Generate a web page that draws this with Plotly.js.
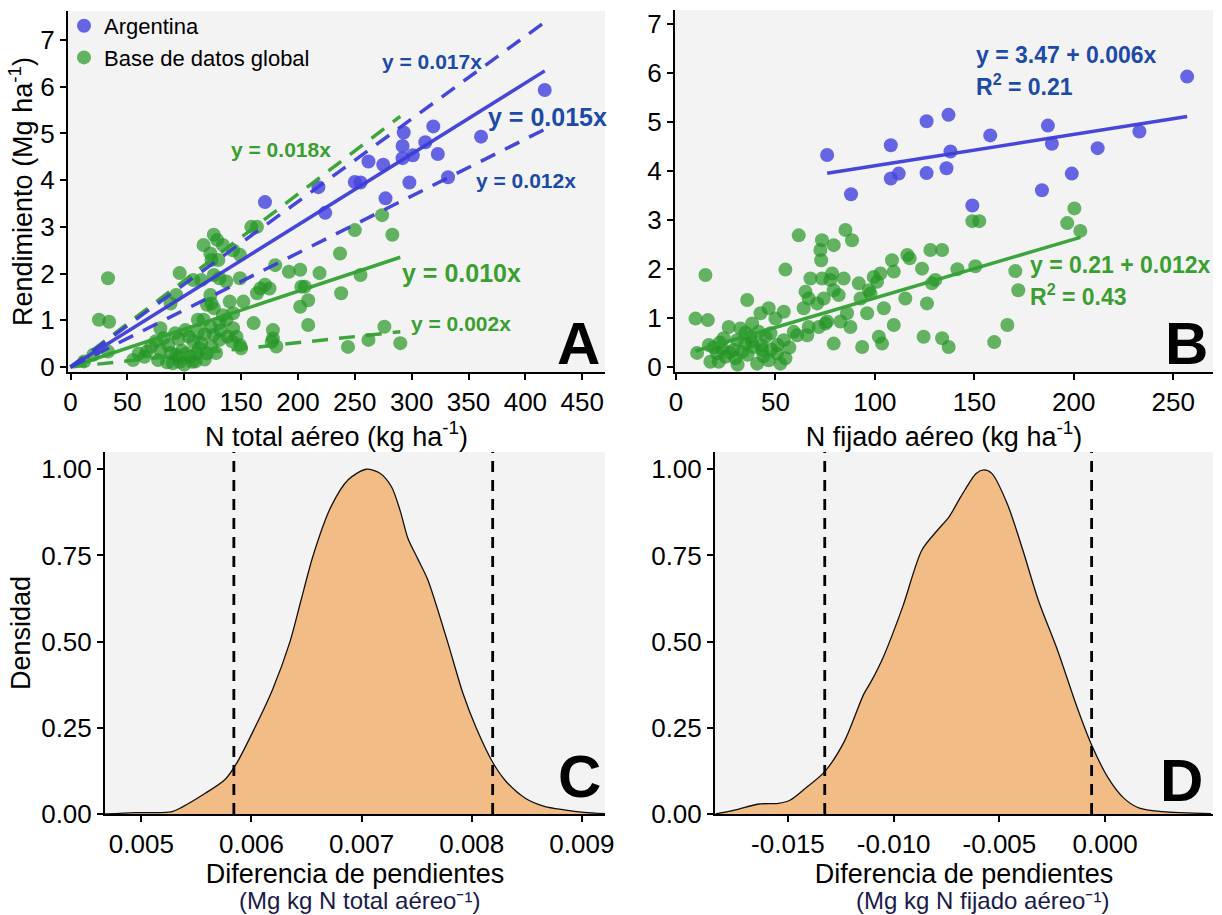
<!DOCTYPE html>
<html><head><meta charset="utf-8">
<script src="https://cdn.plot.ly/plotly-3.0.1.min.js"></script>
<style>html,body{margin:0;padding:0;background:#fff}#chart{width:1222px;height:915px}</style>
</head><body><div id="chart"></div>
<script>
// ---------- Panel A / B : Argentina ----------
const argYield  = [5.93,5.15,5.02,4.93,4.81,4.73,4.56,4.53,4.47,4.40,4.33,4.06,3.96,3.95,3.95,3.85,3.61,3.53,3.30];
const argTotalN = [417,319,293,361,312,292,323,301,292,262,275,332,250,255,298,218,277,171,224];
const argFixN   = [257,137,126,187,233,158,189,108,212,138,76,136,126,112,199,108,184,88,149];

// ---------- Panel A : global database ----------
const globTotalN = [33,25,34,20,33,12,55,60,67,71,79,79,77,86,88,93,96,92,93,90,96,102,101,104,107,111,112,108,115,117,123,126,129,134,124,130,126,131,137,123,124,120,126,117,123,126,115,120,124,131,134,131,137,143,149,149,140,143,152,143,146,149,150,161,164,167,171,175,178,178,177,181,180,159,164,192,202,203,206,202,209,209,219,237,238,250,255,244,274,283,262,276,290,85,95,100,105,110,98,113,118,88,65,75,82,95,108,112,118,132,138,142,128];
const globYieldA = [1.90,1.01,0.97,0.26,0.33,0.12,0.15,0.29,0.33,0.44,0.83,0.36,0.15,0.47,1.36,1.54,2.01,0.72,0.26,0.08,0.11,0.29,0.79,0.65,0.11,0.29,1.01,1.86,1.86,2.61,2.43,2.83,2.72,2.61,2.29,2.29,1.97,1.90,1.83,1.54,1.36,1.33,1.26,1.01,0.86,0.69,0.51,0.29,0.44,0.58,1.11,0.94,1.01,2.50,2.40,1.90,1.40,1.15,1.40,0.83,0.65,0.47,0.40,0.94,1.58,1.68,1.76,1.68,0.79,0.61,0.54,0.44,2.18,3.00,3.00,2.04,2.08,1.72,1.72,1.29,1.43,0.90,2.01,2.43,1.58,2.93,1.97,0.43,3.25,2.83,0.58,0.86,0.51,0.10,0.20,0.05,0.22,0.12,0.35,0.40,0.16,0.30,0.22,0.55,0.62,0.60,0.55,0.75,0.70,0.78,0.65,0.55,0.30];

// ---------- Panel B : global database ----------
const globFixN = [14.8,9.8,16,10.6,16.5,17.3,20.7,23.2,21.5,24.9,26.5,24,29,30.7,32.4,29.9,33.3,35.8,34.9,37.4,38.3,39.1,40.8,41.6,42.5,43.3,45,46.6,46.6,47.5,50,50.8,52.5,54.2,55,55,54.2,59.2,61.7,60.9,64.2,65.1,66,66.7,67.6,66.7,71,71.8,73.4,73.4,72.6,73,74.3,75.2,76,77.6,78.5,79.3,79.3,79.3,81.8,82.7,84.3,85.2,86,87.7,88.5,91.9,92.8,93.6,96.1,97,97.8,99.4,101.1,102.8,102,103.6,104.5,108.6,109.5,109.5,115.3,116.3,117.5,123.7,124.5,126.2,127.9,128.7,130.4,133.8,133.8,137.1,141.5,150.5,149,152.5,160,166.6,170.6,172.1,196.7,200.3,203.3,19,27,36,38,43,44,48,31,22,51,57,35];
const globYieldB = [1.88,0.99,0.96,0.29,0.45,0.11,0.28,0.38,0.11,0.21,0.82,0.59,0.35,0.55,0.79,0.18,0.31,1.37,0.48,0.62,0.89,0.41,0.07,0.72,1.10,0.35,0.62,1.20,0.14,0.69,0.99,0.28,0.07,1.13,1.99,0.18,0.55,0.72,2.69,0.65,1.20,1.54,0.65,0.82,1.81,1.40,1.30,0.82,1.81,2.59,2.39,2.18,1.40,0.89,0.93,1.78,1.91,2.49,1.57,0.48,1.47,0.93,1.81,2.80,1.10,0.82,2.59,1.71,1.40,0.41,1.10,1.57,1.50,1.84,1.74,1.91,0.62,0.48,1.20,2.18,1.95,0.86,1.40,2.29,2.22,2.01,0.62,1.30,2.39,1.71,1.78,2.39,0.59,0.41,2.00,2.06,2.98,2.98,0.51,0.86,1.96,1.57,2.94,3.24,2.78,0.40,0.30,0.25,0.52,0.45,0.22,0.36,0.05,0.50,0.45,0.40,0.70];

// ---------- Fitted lines ----------
// Panel A: through origin (solid, upper CI, lower CI)
const argSlopesA  = [0.0152, 0.0177, 0.0122];
const globSlopesA = [0.0081, 0.0185, 0.0026];
// Panel B: intercept, slope
const argFitB  = [3.47, 0.0064];
const globFitB = [0.21, 0.012];

// ---------- Panel C / D densities ----------
const densCX = [0.00467,0.00495,0.00527,0.00537,0.00558,0.00576,0.00587,0.00603,0.00619,0.00635,0.00645,0.00656,0.00672,0.00688,0.00704,0.00716,0.00727,0.00735,0.00742,0.00751,0.00760,0.00778,0.00792,0.00804,0.00819,0.00831,0.00849,0.00866,0.00884,0.00902,0.00921];
const densCY = [0.0,0.004,0.006,0.02,0.06,0.10,0.15,0.25,0.36,0.50,0.62,0.75,0.89,0.97,1.0,0.99,0.95,0.88,0.80,0.74,0.68,0.50,0.35,0.25,0.15,0.095,0.045,0.022,0.012,0.005,0.001];
const densDX = [-0.01843,-0.01748,-0.01638,-0.01546,-0.01491,-0.01417,-0.01326,-0.01234,-0.01142,-0.01105,-0.0105,-0.00958,-0.00867,-0.00793,-0.00738,-0.00683,-0.0061,-0.00573,-0.00536,-0.00463,-0.00389,-0.00316,-0.00224,-0.00132,-0.00064,0.00015,0.00088,0.00162,0.00272,0.00501];
const densDY = [0.0,0.012,0.029,0.031,0.04,0.075,0.123,0.21,0.347,0.386,0.454,0.60,0.765,0.823,0.862,0.92,0.988,0.998,0.988,0.90,0.765,0.62,0.473,0.308,0.20,0.104,0.046,0.017,0.007,0.001];
const ciC = [0.00584, 0.00819];
const ciD = [-0.01326, -0.00064];

// ---------- Tick labels ----------
const dTickVals = [-0.015,-0.010,-0.005,0.000];
const dTickText = ['-0.015','-0.010','-0.005','0.000'];
const densTickVals = [0,0.25,0.5,0.75,1];

// ---------- Styles ----------
const FONT = 'Liberation Sans, Arial, sans-serif';
const BLUE_PT = 'rgba(70,70,225,0.82)';
const GREEN_PT = 'rgba(35,150,35,0.70)';
const BLUE_LN = 'rgba(60,60,215,0.95)';
const GREEN_LN = 'rgba(50,160,50,0.95)';
const BLUE_TXT = '#1c4aa6';
const GREEN_TXT = '#3b9e30';
const DASH = '16px,11px';
const W = 1222, H = 915;
const px = v => v / W, py = v => 1 - v / H;

const maxOf = a => Math.max(...a), minOf = a => Math.min(...a);
const traces = [];

// Panel A points
traces.push({type:'scatter', mode:'markers', x:argTotalN, y:argYield, xaxis:'x', yaxis:'y',
  name:'Argentina', marker:{color:BLUE_PT, size:14, line:{width:0}}, showlegend:true});
traces.push({type:'scatter', mode:'markers', x:globTotalN, y:globYieldA, xaxis:'x', yaxis:'y',
  name:'Base de datos global', marker:{color:GREEN_PT, size:14, line:{width:0}}, showlegend:true});
// Panel A lines
const aArgMax = maxOf(argTotalN), aGlobMax = maxOf(globTotalN);
globSlopesA.forEach((s,i)=>traces.push({type:'scatter', mode:'lines', x:[0,aGlobMax], y:[0,s*aGlobMax],
  xaxis:'x', yaxis:'y', showlegend:false, hoverinfo:'skip',
  line:{color:GREEN_LN, width:3.5, dash: i===0?'solid':DASH}}));
argSlopesA.forEach((s,i)=>traces.push({type:'scatter', mode:'lines', x:[0,aArgMax], y:[0,s*aArgMax],
  xaxis:'x', yaxis:'y', showlegend:false, hoverinfo:'skip',
  line:{color:BLUE_LN, width:3.5, dash: i===0?'solid':DASH}}));

// Panel B points
traces.push({type:'scatter', mode:'markers', x:argFixN, y:argYield, xaxis:'x2', yaxis:'y2',
  showlegend:false, marker:{color:BLUE_PT, size:14, line:{width:0}}});
traces.push({type:'scatter', mode:'markers', x:globFixN, y:globYieldB, xaxis:'x2', yaxis:'y2',
  showlegend:false, marker:{color:GREEN_PT, size:14, line:{width:0}}});
const bArgX = [minOf(argFixN), maxOf(argFixN)], bGlobX = [minOf(globFixN), maxOf(globFixN)];
traces.push({type:'scatter', mode:'lines', x:bArgX, y:bArgX.map(v=>argFitB[0]+argFitB[1]*v),
  xaxis:'x2', yaxis:'y2', showlegend:false, line:{color:BLUE_LN, width:3.5}});
traces.push({type:'scatter', mode:'lines', x:bGlobX, y:bGlobX.map(v=>globFitB[0]+globFitB[1]*v),
  xaxis:'x2', yaxis:'y2', showlegend:false, line:{color:GREEN_LN, width:3.5}});

// Panel C / D
const DENS_TOP = 1.05;
traces.push({type:'scatter', mode:'lines', x:densCX, y:densCY, xaxis:'x3', yaxis:'y3', showlegend:false,
  fill:'tozeroy', fillcolor:'#f2bc87', line:{color:'#111', width:1.3, shape:'spline', smoothing:0.8}});
traces.push({type:'scatter', mode:'lines', x:densDX, y:densDY, xaxis:'x4', yaxis:'y4', showlegend:false,
  fill:'tozeroy', fillcolor:'#f2bc87', line:{color:'#111', width:1.3, shape:'spline', smoothing:0.8}});
ciC.forEach(v=>traces.push({type:'scatter', mode:'lines', x:[v,v], y:[0,DENS_TOP], xaxis:'x3', yaxis:'y3',
  showlegend:false, line:{color:'#000', width:2.8, dash:'11px,8px'}}));
ciD.forEach(v=>traces.push({type:'scatter', mode:'lines', x:[v,v], y:[0,DENS_TOP], xaxis:'x4', yaxis:'y4',
  showlegend:false, line:{color:'#000', width:2.8, dash:'11px,8px'}}));

const baseAxis = {showline:true, linecolor:'#000', linewidth:2, ticks:'outside', ticklen:6, tickwidth:2,
  tickcolor:'#000', showgrid:false, zeroline:false, automargin:false,
  tickfont:{family:FONT, size:26, color:'#000'}};
const titleFont = {family:FONT, size:27, color:'#000'};

const ann = (text, x, y, xref, yref, size, color, extra) => Object.assign({text:'<b>'+text+'</b>', x, y, xref, yref,
  showarrow:false, font:{family:FONT, size, color}, xanchor:'center', yanchor:'middle'}, extra||{});

const annotations = [
  ann('y = 0.017x', 318, 6.53, 'x', 'y', 21, BLUE_TXT),
  ann('y = 0.015x', 419, 5.35, 'x', 'y', 25, BLUE_TXT),
  ann('y = 0.012x', 400.6, 4.0, 'x', 'y', 21, BLUE_TXT),
  ann('y = 0.018x', 185, 4.65, 'x', 'y', 21, GREEN_TXT),
  ann('y = 0.010x', 344, 2.01, 'x', 'y', 25, GREEN_TXT),
  ann('y = 0.002x', 343, 0.94, 'x', 'y', 21, GREEN_TXT),
  ann('y = 3.47 + 0.006x', 150, 6.37, 'x2', 'y2', 23, BLUE_TXT, {xanchor:'left'}),
  ann('R<sup>2</sup> = 0.21', 150, 5.76, 'x2', 'y2', 23, BLUE_TXT, {xanchor:'left'}),
  ann('y = 0.21 + 0.012x', 177, 2.08, 'x2', 'y2', 23, GREEN_TXT, {xanchor:'left'}),
  ann('R<sup>2</sup> = 0.43', 177, 1.47, 'x2', 'y2', 23, GREEN_TXT, {xanchor:'left'}),
  ann('A', 1, 0, 'x domain', 'y domain', 60, '#000', {xanchor:'right', yanchor:'bottom', xshift:-3, yshift:-7}),
  ann('B', 1, 0, 'x2 domain', 'y2 domain', 60, '#000', {xanchor:'right', yanchor:'bottom', xshift:-3, yshift:-7}),
  ann('C', 1, 0, 'x3 domain', 'y3 domain', 60, '#000', {xanchor:'right', yanchor:'bottom', xshift:-2, yshift:2}),
  ann('D', 1, 0, 'x4 domain', 'y4 domain', 60, '#000', {xanchor:'right', yanchor:'bottom', xshift:-8, yshift:-2}),
  {text:'(Mg kg N total aéreo\u207B\u00B9)', x:px(359), y:py(900), xref:'paper', yref:'paper', showarrow:false,
   font:{family:FONT, size:24, color:'#1a1a4a'}, xanchor:'center', yanchor:'middle'},
  {text:'(Mg kg N fijado aéreo\u207B\u00B9)', x:px(982), y:py(900), xref:'paper', yref:'paper', showarrow:false,
   font:{family:FONT, size:24, color:'#1a1a4a'}, xanchor:'center', yanchor:'middle'}
];

const layout = {
  width:W, height:H, margin:{l:0,r:0,t:0,b:0}, paper_bgcolor:'#fff', plot_bgcolor:'#f3f3f3',
  font:{family:FONT, color:'#000'},
  showlegend:true,
  legend:{x:px(64), y:py(5), xanchor:'left', yanchor:'top', bgcolor:'rgba(0,0,0,0)',
          font:{family:FONT, size:22, color:'#000'}, tracegroupgap:0},
  xaxis: Object.assign({}, baseAxis, {domain:[px(68),px(605)], range:[-2.2,470], dtick:50, tick0:0, anchor:'y',
          title:{text:'N total aéreo (kg ha<sup>-1</sup>)', font:titleFont, standoff:3}}),
  yaxis: Object.assign({}, baseAxis, {domain:[py(372),py(11)], range:[-0.107,7.62], dtick:1, tick0:0, anchor:'x',
          title:{text:'Rendimiento (Mg ha<sup>-1</sup>)', font:titleFont, standoff:0}}),
  xaxis2: Object.assign({}, baseAxis, {domain:[px(675),px(1213)], range:[-0.5,270], dtick:50, tick0:0, anchor:'y2',
          title:{text:'N fijado aéreo (kg ha<sup>-1</sup>)', font:titleFont, standoff:3}}),
  yaxis2: Object.assign({}, baseAxis, {domain:[py(372),py(10)], range:[-0.1,7.29], dtick:1, tick0:0, anchor:'x2'}),
  xaxis3: Object.assign({}, baseAxis, {domain:[px(105),px(605)], range:[0.00467,0.00921], dtick:0.001, tick0:0.005,
          tickformat:'.3f', anchor:'y3', title:{text:'Diferencia de pendientes', font:titleFont, standoff:0}}),
  yaxis3: Object.assign({}, baseAxis, {domain:[py(814),py(452)], range:[0,DENS_TOP], tickvals:densTickVals,
          tickformat:'.2f', anchor:'x3', title:{text:'Densidad', font:titleFont, standoff:3}}),
  xaxis4: Object.assign({}, baseAxis, {domain:[px(715),px(1213)], range:[-0.01845,0.0051], tickvals:dTickVals,
          ticktext:dTickText, anchor:'y4', title:{text:'Diferencia de pendientes', font:titleFont, standoff:0}}),
  yaxis4: Object.assign({}, baseAxis, {domain:[py(814),py(452)], range:[0,DENS_TOP], tickvals:densTickVals,
          tickformat:'.2f', anchor:'x4'}),
  annotations
};

Plotly.newPlot('chart', traces, layout, {displayModeBar:false, staticPlot:true});
</script></body></html>
